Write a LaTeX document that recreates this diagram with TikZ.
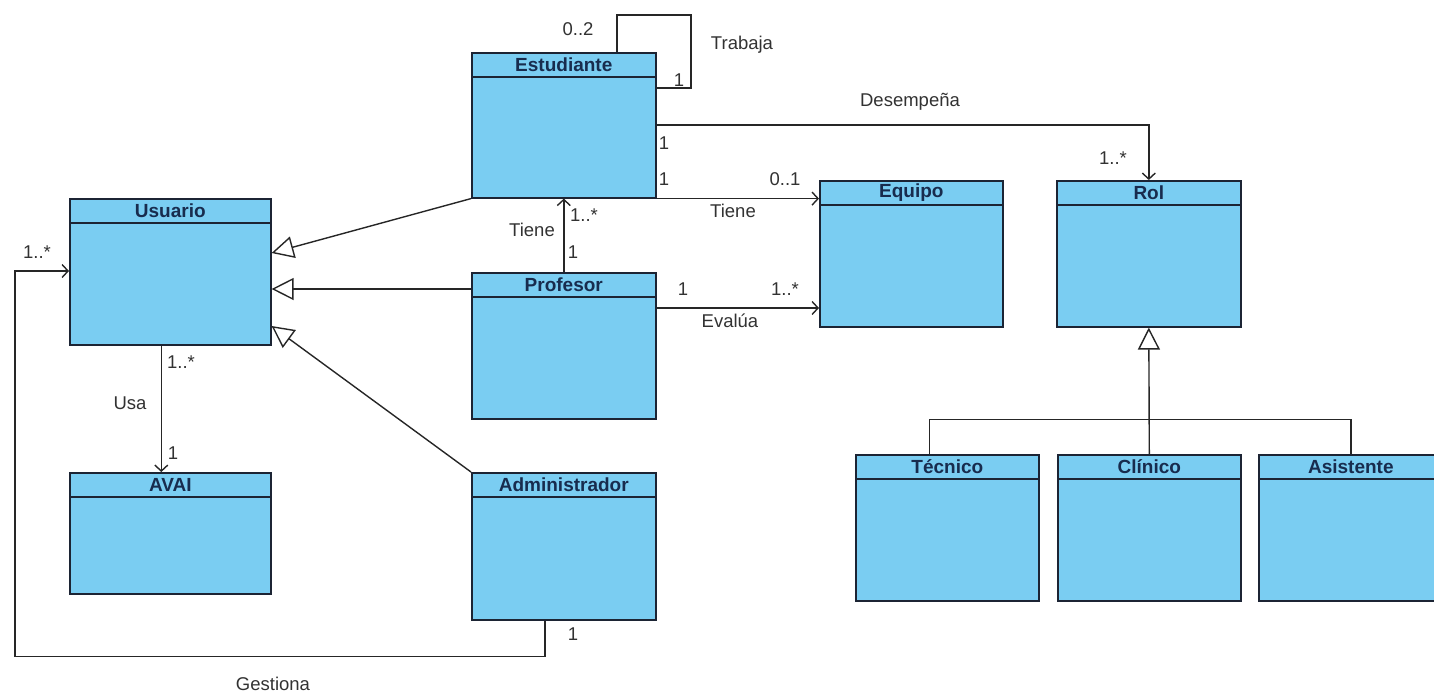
\documentclass[tikz,border=0pt]{standalone}
\usepackage{fontspec}
\setmainfont{Liberation Sans}
\usetikzlibrary{calc,arrows.meta}

\definecolor{classfill}{RGB}{122,205,242}
\definecolor{classedge}{RGB}{28,36,52}
\definecolor{titlecol}{RGB}{24,44,78}
\definecolor{labelcol}{RGB}{50,50,50}

\tikzset{
  classbox/.style={draw=classedge, fill=classfill, line width=1.6pt, inner sep=0pt},
  boxline/.style={draw=classedge, line width=1.4pt},
  classtitle/.style={font=\bfseries\fontsize{19}{21}\selectfont, text=titlecol, inner sep=0pt},
  conn/.style={draw=black!85, line width=1.4pt},
  assoc/.style={conn, -{Straight Barb[length=6pt,width=13pt,line width=1.4pt]}},
  gen/.style={conn, -{Triangle[open,length=22pt,width=22pt,line width=1.4pt,fill=white]}},
  lbl/.style={font=\fontsize{18.5}{20}\selectfont, text=labelcol, inner sep=0pt},
}

% name, left, top, width, height, title
\newcommand{\umlclass}[6]{%
  \node[classbox, minimum width=#4pt, minimum height=#5pt, anchor=north west] (#1) at (#2,#3) {};
  \draw[boxline] ($(#1.north west)+(0,25)$) -- ($(#1.north east)+(0,25)$);
  \node[classtitle] (#1-title) at ($(#1.north)+(0,12.5)$) {#6};
}

\begin{document}
\begin{tikzpicture}[x=1pt,y=-1pt]
\useasboundingbox (0,0) rectangle (1434,694);
\clip (0,0) rectangle (1434,694);

% classes
\umlclass{usr}{69}{198}{201}{146}{Usuario}
\umlclass{avai}{69}{472}{201}{121}{AVAI}
\umlclass{est}{471}{52}{184}{145}{Estudiante}
\umlclass{prof}{471}{272}{184}{146}{Profesor}
\umlclass{adm}{471}{472}{184}{147}{Administrador}
\umlclass{eq}{819}{180}{183}{146}{Equipo}
\umlclass{rol}{1056}{180}{184}{146}{Rol}
\umlclass{tec}{855}{454}{183}{146}{Técnico}
\umlclass{clin}{1057}{454}{183}{146}{Clínico}
\umlclass{asis}{1258}{454}{184}{146}{Asistente}

% generalizations towards Usuario
\draw[gen] (est.south west) -- ($(usr.north east)+(0,55)$);
\draw[gen] ($(prof.north west)+(0,17)$) -- ($(usr.north east)+(0,91)$);
\draw[gen] (adm.north west) -- ($(usr.north east)+(0,128)$);

% generalizations towards Rol
\coordinate (hub) at ($(rol.south)+(0,92)$);
\draw[gen] (clin.north) -- (rol.south);
\draw[conn] ($(tec.north)+(-18,0)$) |- (hub) -| (asis.north);

% Estudiante works with Estudiante
\draw[conn] ($(est.north west)+(146,0)$) -- ++(0,-37) -- ++(74,0) -- ++(0,73) -- ($(est.north east)+(0,36)$);
\node[lbl] (l-02) at (578,29) {0..2};
\node[lbl] (l-tr1) at (679,80) {1};
\node[lbl] (l-trab) at (742,45) {Trabaja};

% Estudiante plays Rol
\draw[assoc] ($(est.north east)+(0,73)$) -| (rol.north);
\node[lbl] (l-des) at (910,102) {Desempeña};
\node[lbl] (l-des1) at (664,143) {1};
\node[lbl] (l-desn) at (1113,158) {1..*};

% Estudiante has Equipo
\draw[assoc] (est.south east) -- (est.south east -| eq.west);
\node[lbl] (l-ti1) at (664,179) {1};
\node[lbl] (l-ti01) at (785,179) {0..1};
\node[lbl] (l-tiene) at (733,211) {Tiene};

% Profesor has Estudiante
\draw[assoc] (prof.north) -- (est.south);
\node[lbl] (l-pe1) at (584,215) {1..*};
\node[lbl] (l-pet) at (532,230) {Tiene};
\node[lbl] (l-pe2) at (573,252) {1};

% Profesor evaluates Equipo
\draw[assoc] ($(prof.north east)+(0,36)$) -- ($(eq.north west)+(0,128)$);
\node[lbl] (l-ev1) at (683,289) {1};
\node[lbl] (l-evn) at (785,289) {1..*};
\node[lbl] (l-ev) at (730,321) {Evalúa};

% Usuario uses AVAI
\draw[assoc] ($(usr.south)+(-9,0)$) -- ($(avai.north)+(-9,0)$);
\node[lbl] (l-usn) at (181,362) {1..*};
\node[lbl] (l-usa) at (130,403) {Usa};
\node[lbl] (l-us1) at (173,453) {1};

% Administrador manages Usuario
\coordinate (g1) at ($(adm.south west)+(74,36)$);
\draw[assoc] ($(adm.south west)+(74,0)$) -- (g1) -- (g1 -| 15,0) |- ($(usr.north west)+(0,73)$);
\node[lbl] (l-gn) at (37,252) {1..*};
\node[lbl] (l-g1) at (573,634) {1};
\node[lbl] (l-ges) at (273,684) {Gestiona};
\end{tikzpicture}
\end{document}
